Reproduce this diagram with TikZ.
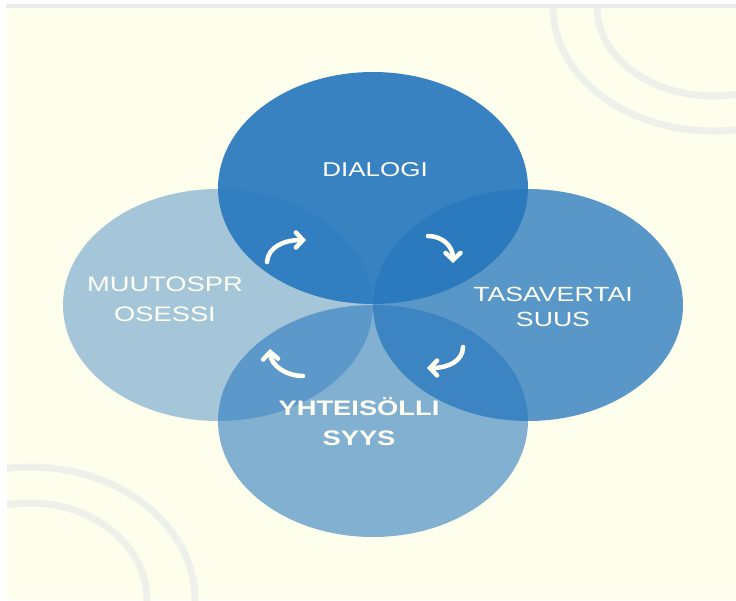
\documentclass[tikz,border=0pt]{standalone}
\usepackage{fontspec}
\newfontfamily\bubblefont[FakeStretch=1.3]{Liberation Sans}
\definecolor{b00}{rgb}{1.00, 1.00, 1.00}
\definecolor{b01}{rgb}{0.996, 0.996, 0.925}
\definecolor{b02}{rgb}{0.91, 0.925, 0.93}
\definecolor{b03}{rgb}{0.93, 0.945, 0.915}
\definecolor{b04}{rgb}{0.157, 0.47, 0.745}
\definecolor{b05}{rgb}{1.00, 1.00, 0.95}
\usetikzlibrary{shapes.geometric, arrows.meta}
\tikzstyle{blob} = [ellipse, fill=b04, minimum width=310pt,
    minimum height=232pt, inner sep=0pt]
\tikzstyle{word} = [b05, align=center, anchor=base, inner sep=0pt]
\tikzstyle{Turn} = [draw=b05, line width=4.5pt, line cap=round,
    -{Straight Barb[length=7pt, width=15pt, line cap=round]}]
\tikzstyle{ring} = [draw=b03, line width=7pt]

\begin{document}
\begin{tikzpicture}[x=1pt, y=-1pt]
     \useasboundingbox (0,0) rectangle (736,600);
     % ><>< =================== ><>< %
     % ><><     Background      ><>< %
     % ><>< =================== ><>< %
     \fill [b00] (0,0) rectangle (736,600);
     \fill [b01] (7,7) rectangle (736,600);
     \begin{scope}
        \clip (7,7) rectangle (736,600);
        \draw [ring] (713,7) ellipse [x radius=160, y radius=124];
        \draw [ring] (713,7) ellipse [x radius=116, y radius=89];
        \draw [ring] (30,600) ellipse [x radius=165, y radius=133];
        \draw [ring] (30,600) ellipse [x radius=117, y radius=97];
     \end{scope}
     \fill [b02] (6,4) rectangle (736,7.5);
     % ><>< =================== ><>< %
     % ><><     Place blobs     ><>< %
     % ><>< =================== ><>< %
     \node [blob, fill opacity=0.41] (muutos) at (218,305) {};
     \node [blob, fill opacity=0.58] (yhteis) at (373,421) {};
     \node [blob, fill opacity=0.77] (tasa) at (528,305) {};
     \node [blob, fill opacity=0.92] (dialogi) at (373,188) {};
     % ><>< =================== ><>< %
     \node [word, font=\bubblefont\fontsize{20}{24}\selectfont]
        (dlab) at (375,176) {DIALOGI};
     \node [word, font=\bubblefont\fontsize{21}{30}\selectfont]
        (mlab) at (165,321) {MUUTOSPR\\OSESSI};
     \node [word, font=\bubblefont\fontsize{20.5}{25}\selectfont]
        (tlab) at (553,326) {TASAVERTAI\\SUUS};
     \node [word, font=\bubblefont\bfseries\fontsize{21}{30}\selectfont]
        (ylab) at (359,445) {YHTEISÖLLI\\SYYS};
     % ><>< =================== ><>< %
     % ><><     Draw turns.     ><>< %
     % ><>< =================== ><>< %
     \coordinate (t1a) at (267,262);
     \coordinate (t1b) at (306,240);
     \coordinate (t2a) at (428,236);
     \coordinate (t2b) at (453,263);
     \coordinate (t3a) at (463,347);
     \coordinate (t3b) at (427,368);
     \coordinate (t4a) at (303,376);
     \coordinate (t4b) at (270,349);
     \draw [Turn] (t1a) .. controls (268,247) and (284,240) .. (t1b);
     \draw [Turn] (t2a) .. controls (442,236) and (453,246) .. (t2b);
     \draw [Turn] (t3a) .. controls (463,361) and (448,368) .. (t3b);
     \draw [Turn] (t4a) .. controls (287,376) and (271,366) .. (t4b);
  \end{tikzpicture}
\end{document}
